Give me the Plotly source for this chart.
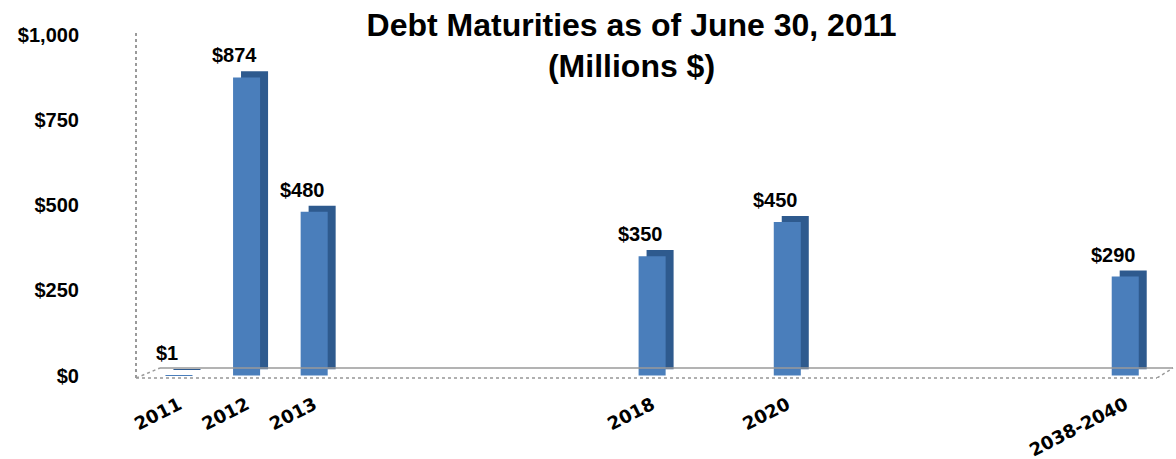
import plotly.graph_objects as go

# ---- data ----
slot_labels = ["2011", "2012", "2013", "", "", "", "", "2018", "", "2020", "", "", "", "", "2038-2040"]
debt_millions = [1, 874, 480, None, None, None, None, 350, None, 450, None, None, None, None, 290]
value_labels = ["$1", "$874", "$480", "", "", "", "", "$350", "", "$450", "", "", "", "", "$290"]
y_tick_values = [0, 250, 500, 750, 1000]
y_tick_labels = ["$0", "$250", "$500", "$750", "$1,000"]

x_pos = list(range(len(slot_labels)))

W, H = 1176, 459
ML, MR, MT, MB = 136, 19, 33, 81
x_range = [-0.636, 14.47]
y_range = [-7.3, 1004.4]

FRONT = "#4A7EBB"
SIDE = "#2E5A8E"
DEPTH_X = 0.118   # depth shift in category units
DEPTH_Y = 18      # depth shift in value units
BAR_W = 0.4

fig = go.Figure()

# back (depth) box, gives the 3-D side/top look
fig.add_trace(go.Bar(
    x=x_pos, y=debt_millions, base=DEPTH_Y,
    width=BAR_W, offset=-BAR_W / 2 + DEPTH_X,
    marker=dict(color=SIDE, line=dict(width=0)),
    hoverinfo="skip", showlegend=False,
))
# front face
fig.add_trace(go.Bar(
    x=x_pos, y=debt_millions,
    width=BAR_W, offset=-BAR_W / 2,
    marker=dict(color=FRONT, line=dict(width=0)),
    showlegend=False,
))

# value labels
for xi, v, lab in zip(x_pos, debt_millions, value_labels):
    if v is None or not lab:
        continue
    fig.add_annotation(
        x=xi, y=v, xref="x", yref="y", text=lab, showarrow=False,
        xanchor="center", yanchor="bottom", xshift=-12, yshift=9,
        font=dict(family="Liberation Sans, Arial", size=20, color="black", weight="bold"),
    )

# floor / wall lines (3-D look)
pw = W - ML - MR
def px_to_paper_x(px):
    return (px - ML) / pw

floor_back_val = 22
gray = "#9a9a9a"
shapes = [
    # vertical wall edge
    dict(type="line", xref="paper", yref="paper", x0=0, x1=0, y0=0, y1=1,
         line=dict(color=gray, width=2, dash="dot")),
    # front floor edge
    dict(type="line", xref="paper", yref="paper", x0=0, x1=1, y0=0, y1=0,
         line=dict(color="#b0b0b0", width=2, dash="dot")),
    # back floor edge
    dict(type="line", xref="paper", yref="y", x0=px_to_paper_x(160), x1=px_to_paper_x(1173),
         y0=floor_back_val, y1=floor_back_val, line=dict(color=gray, width=1.5)),
    # diagonals
    dict(type="line", xref="paper", yref="y", x0=0, x1=px_to_paper_x(160),
         y0=y_range[0], y1=floor_back_val, line=dict(color=gray, width=1.5, dash="dot")),
    dict(type="line", xref="paper", yref="y", x0=1, x1=px_to_paper_x(1173),
         y0=y_range[0], y1=floor_back_val, line=dict(color=gray, width=1.5, dash="dot")),
]

fig.update_layout(
    width=W, height=H,
    margin=dict(l=ML, r=MR, t=MT, b=MB, autoexpand=False),
    paper_bgcolor="white", plot_bgcolor="white",
    barmode="overlay",
    showlegend=False,
    shapes=shapes,
    title=dict(
        text="Debt Maturities as of June 30, 2011<br>(Millions $)",
        x=0.537, xref="container", xanchor="center",
        y=0.922, yref="container", yanchor="top",
        font=dict(family="Liberation Sans, Arial", size=32, color="black", weight="bold"),
    ),
    xaxis=dict(
        range=x_range, showgrid=False, zeroline=False, showline=False,
        tickmode="array", tickvals=x_pos, ticktext=slot_labels,
        tickangle=-27, ticks="", automargin=False,
        tickfont=dict(family="DejaVu Sans", size=18, color="black", weight="bold"),
        ticklabelstandoff=12,
    ),
    yaxis=dict(
        range=y_range, showgrid=False, zeroline=False, showline=False,
        tickmode="array", tickvals=y_tick_values, ticktext=y_tick_labels,
        ticks="", automargin=False, ticklabelstandoff=56,
        tickfont=dict(family="Liberation Sans, Arial", size=20, color="black", weight="bold"),
    ),
)

fig.write_html("out.html")
